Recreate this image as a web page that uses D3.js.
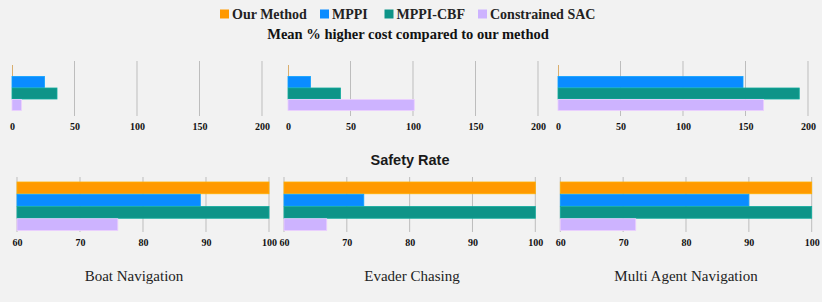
<!DOCTYPE html>
<html>
<head>
<meta charset="utf-8">
<style>
  body { margin: 0; background: #f2f2f2; }
  svg { display: block; }
</style>
</head>
<body>
<div id="chart"></div>
<script src="https://d3js.org/d3.v7.min.js"></script>
<script>
const methods = ["Our Method", "MPPI", "MPPI-CBF", "Constrained SAC"];
const colors = ["#ff9900", "#0a8cff", "#0e9488", "#cdb3ff"];
const tasks = ["Boat Navigation", "Evader Chasing", "Multi Agent Navigation"];

// mean % higher cost, per method, per task
const costOurs = [0, 0, 0];
const costMPPI = [26, 18, 148];
const costCBF = [36, 42, 193];
const costSAC = [7.5, 101, 164.5];

// safety rate, per method, per task
const safetyOurs = [100, 100, 100];
const safetyMPPI = [89.1, 72.7, 90];
const safetyCBF = [100, 100, 100];
const safetySAC = [76, 66.8, 72];

const costTicks = [0, 50, 100, 150, 200];
const safetyTicks = [60, 70, 80, 90, 100];

const width = 822, height = 302;
const svg = d3.select("#chart").append("svg")
  .attr("width", width).attr("height", height);
svg.append("rect").attr("width", width).attr("height", height).attr("fill", "#f2f2f2");

// legend
const legendX = [220, 320, 384.5, 478];
const legend = svg.append("g");
methods.forEach((m, i) => {
  const g = legend.append("g").attr("transform", `translate(${legendX[i]},14)`);
  g.append("rect").attr("x", 0).attr("y", -4.5).attr("width", 9).attr("height", 9)
    .attr("fill", colors[i]);
  g.append("text").attr("x", 12).attr("y", 5)
    .attr("font-family", "Liberation Serif, serif").attr("font-weight", "bold")
    .attr("font-size", 14).attr("fill", "#222").text(m);
});

svg.append("text").attr("x", 408).attr("y", 39).attr("text-anchor", "middle")
  .attr("font-family", "Liberation Serif, serif").attr("font-weight", "bold")
  .attr("font-size", 14.5).attr("fill", "#111")
  .text("Mean % higher cost compared to our method");

svg.append("text").attr("x", 410).attr("y", 165).attr("text-anchor", "middle")
  .attr("font-family", "Liberation Sans, Arial, sans-serif").attr("font-weight", "bold")
  .attr("font-size", 14.5).attr("fill", "#1a1a1a")
  .text("Safety Rate");

function panel(xRange, domain, ticks, vals, gridTop, gridBottom, barRange, labelY, showFirstGrid) {
  const x = d3.scaleLinear().domain(domain).range(xRange);
  const y = d3.scaleBand().domain(methods).range(barRange).paddingInner(0).paddingOuter(0);
  const g = svg.append("g");
  g.selectAll("line.grid").data(showFirstGrid ? ticks : ticks.slice(1)).join("line")
    .attr("class", "grid")
    .attr("x1", d => x(d)).attr("x2", d => x(d))
    .attr("y1", gridTop).attr("y2", gridBottom)
    .attr("stroke", "#bdbdbd").attr("stroke-width", 1);
  g.selectAll("rect.bar").data(methods).join("rect")
    .attr("class", "bar")
    .attr("x", x(domain[0]))
    .attr("y", d => y(d) + 0.5)
    // a zero value still shows as a thin sliver, as in the original
    .attr("width", (d, i) => Math.max(x(vals[i]) - x(domain[0]), 1))
    .attr("height", y.bandwidth() - 0.5)
    .attr("fill", (d, i) => vals[i] === domain[0] ? "#d9ae6e" : colors[i])
    .attr("stroke", (d, i) => vals[i] === domain[0] ? "none" : d3.color(colors[i]).brighter(0.4))
    .attr("stroke-width", 0.8);
  const axis = d3.axisBottom(x).tickValues(ticks).tickSize(0).tickPadding(0);
  const ag = g.append("g").attr("transform", `translate(0,${labelY})`).call(axis);
  ag.select(".domain").remove();
  ag.selectAll("text")
    .attr("font-family", "Liberation Serif, serif").attr("font-weight", "bold")
    .attr("font-size", 10).attr("fill", "#111").attr("dy", "0.35em").attr("y", 0);
}

const topRanges = [[12, 262], [288, 538], [558, 808]];
const bottomRanges = [[17, 269], [284, 535.3], [560.3, 811.7]];

tasks.forEach((t, i) => {
  panel(topRanges[i], [0, 200], costTicks,
    [costOurs[i], costMPPI[i], costCBF[i], costSAC[i]],
    61, 116, [64.5, 110.5], 126, false);
  panel(bottomRanges[i], [60, 100], safetyTicks,
    [safetyOurs[i], safetyMPPI[i], safetyCBF[i], safetySAC[i]],
    177, 232, [181.5, 230.5], 242, true);
});

const taskX = [134, 412, 686];
svg.selectAll("text.task").data(tasks).join("text")
  .attr("class", "task")
  .attr("x", (d, i) => taskX[i]).attr("y", 281)
  .attr("text-anchor", "middle")
  .attr("font-family", "Liberation Serif, serif")
  .attr("font-size", 15).attr("fill", "#222")
  .text(d => d);
</script>
</body>
</html>
